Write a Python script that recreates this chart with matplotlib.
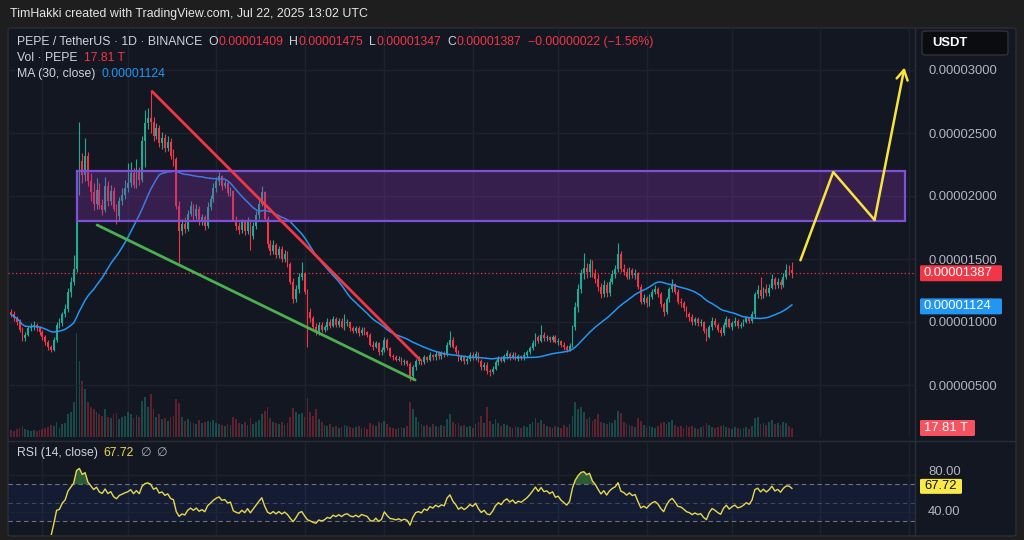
import numpy as np
import pandas as pd
import matplotlib
matplotlib.use("Agg")
import matplotlib.pyplot as plt
import matplotlib.transforms as mtransforms
from matplotlib.patches import FancyBboxPatch, Rectangle
from matplotlib.lines import Line2D

plt.rcParams['font.family'] = ['Liberation Sans', 'DejaVu Sans']

# ---- data: prices in 1e-6 USDT, volume in T (trillion PEPE) ----
start_date = "2024-10-21"
first_open = 10.8

closes = [
    10.6, 10.3, 10.0, 9.4, 8.7, 9.0, 9.5, 9.6, 9.8, 9.5,
    9.2, 8.8, 8.4, 8.0, 7.8, 8.6, 9.8, 9.9, 10.6, 11.0,
    12.4, 13.2, 14.2, 20.6, 22.8, 21.7, 23.2, 21.2, 20.3, 19.4,
    20.5, 19.3, 18.9, 20.8, 19.6, 20.4, 19.0, 18.4, 19.6, 20.1,
    20.6, 21.0, 21.8, 20.9, 22.0, 21.3, 24.4, 25.8, 26.2, 25.9,
    24.8, 25.4, 24.2, 24.6, 23.8, 24.3, 23.2, 22.9, 19.2, 17.2,
    17.8, 17.4, 18.6, 19.2, 18.4, 19.0, 17.9, 18.3, 17.6, 19.1,
    19.8, 20.6, 21.2, 21.6, 20.8, 21.0, 20.2, 20.4, 18.1, 17.6,
    17.3, 17.9, 17.2, 18.0, 16.8, 17.6, 18.5, 19.4, 20.3, 18.2,
    16.2, 15.6, 16.1, 15.3, 15.8, 15.0, 15.4, 14.6, 13.2, 11.8,
    12.6, 13.6, 13.9, 12.4, 10.8, 10.3, 9.6, 9.2, 9.8, 9.4,
    9.6, 10.0, 9.7, 10.2, 9.8, 10.1, 9.6, 9.9, 10.0, 9.5,
    9.3, 9.5, 9.1, 9.4, 9.2, 9.0, 8.2, 8.0, 8.3, 7.6,
    7.8, 8.6, 7.9, 7.3, 7.2, 7.0, 7.1, 6.8, 6.9, 6.7,
    5.7, 6.4, 6.9, 7.0, 6.8, 7.2, 7.0, 7.4, 7.2, 7.5,
    7.3, 7.5, 7.4, 8.2, 8.6, 8.0, 7.6, 7.0, 7.2, 6.9,
    7.1, 7.4, 7.2, 7.5, 6.9, 6.4, 6.6, 6.1, 6.0, 6.3,
    6.8, 7.1, 6.9, 7.3, 7.5, 7.2, 7.4, 7.1, 7.3, 7.2,
    7.4, 7.6, 7.9, 8.3, 8.8, 8.5, 9.0, 8.7, 8.8, 8.6,
    8.8, 8.4, 8.5, 8.2, 8.0, 7.8, 8.1, 9.6, 11.2, 12.6,
    13.9, 14.3, 14.0, 14.6, 13.8, 13.4, 12.8, 12.2, 12.9, 12.3,
    13.2, 13.8, 14.2, 15.4, 14.2, 14.0, 13.6, 14.1, 13.7, 13.9,
    12.8, 11.6, 11.9, 11.5, 12.0, 12.4, 12.6, 12.2, 11.4, 10.8,
    11.8, 12.6, 13.0, 12.4, 11.6, 11.5, 11.1, 10.6, 10.4, 10.0,
    10.2, 9.9, 10.0, 9.3, 8.8, 9.6, 10.1, 9.8, 9.4, 9.1,
    9.8, 10.2, 9.6, 9.9, 10.1, 9.7, 9.8, 10.0, 10.3, 10.1,
    10.6, 12.2, 12.5, 12.1, 12.6, 12.3, 12.7, 13.4, 12.9, 13.2,
    12.9, 13.6, 14.1, 14.09, 13.87,
]

highs = [
    11.0, 10.9, 10.5, 10.2, 9.6, 9.2, 9.7, 9.9, 10.1, 9.9,
    9.7, 9.4, 9.0, 8.6, 8.2, 8.8, 10.0, 10.3, 10.8, 11.4,
    12.7, 13.6, 15.3, 21.0, 25.9, 23.4, 24.6, 23.5, 21.8, 21.0,
    21.4, 21.0, 19.8, 21.5, 21.2, 20.9, 20.7, 19.4, 19.9, 20.6,
    21.3, 22.6, 22.7, 22.2, 22.9, 22.3, 24.8, 26.8, 27.0, 28.3,
    26.3, 25.8, 25.6, 25.1, 24.9, 24.8, 24.6, 23.7, 23.1, 19.6,
    18.2, 18.3, 18.9, 19.6, 19.4, 19.4, 19.2, 18.6, 18.5, 19.5,
    20.1, 21.0, 21.5, 21.9, 21.7, 21.3, 21.2, 20.7, 20.5, 18.4,
    17.9, 18.2, 18.1, 18.3, 18.2, 17.9, 18.8, 19.8, 20.8, 20.4,
    18.4, 16.5, 16.5, 16.3, 16.0, 16.0, 15.7, 15.6, 14.8, 13.5,
    12.9, 13.9, 14.8, 14.0, 12.6, 11.1, 10.5, 9.9, 10.0, 10.0,
    9.8, 10.3, 10.2, 10.5, 10.4, 10.3, 10.3, 10.6, 10.2, 10.1,
    9.7, 9.7, 9.7, 9.6, 9.6, 9.3, 9.1, 8.5, 8.5, 8.4,
    8.0, 8.8, 8.7, 8.0, 7.5, 7.4, 7.3, 7.2, 7.1, 7.0,
    6.8, 6.6, 7.1, 7.3, 7.1, 7.4, 7.3, 7.6, 7.5, 7.7,
    7.7, 7.7, 7.7, 8.4, 9.3, 8.8, 8.2, 7.8, 7.4, 7.4,
    7.3, 7.6, 7.6, 7.7, 7.6, 7.1, 6.8, 6.8, 6.3, 6.5,
    7.0, 7.3, 7.3, 7.5, 7.8, 7.6, 7.6, 7.6, 7.5, 7.4,
    7.6, 7.8, 8.1, 8.6, 9.1, 9.0, 9.8, 9.2, 9.0, 8.9,
    9.0, 9.0, 8.7, 8.6, 8.4, 8.2, 8.3, 9.8, 11.6, 13.0,
    14.2, 15.5, 14.7, 15.0, 14.9, 14.2, 13.8, 13.1, 13.3, 13.2,
    13.5, 14.1, 14.5, 16.3, 15.6, 14.6, 14.3, 14.4, 14.3, 14.2,
    14.0, 13.0, 12.2, 12.1, 12.2, 12.6, 12.9, 12.8, 12.4, 11.6,
    12.0, 12.8, 13.4, 13.1, 12.6, 11.9, 11.7, 11.3, 10.8, 10.6,
    10.4, 10.4, 10.2, 10.1, 9.5, 9.8, 10.4, 10.3, 9.9, 9.6,
    10.0, 10.5, 10.3, 10.1, 10.4, 10.2, 10.0, 10.2, 10.5, 10.4,
    10.9, 12.4, 12.9, 13.6, 12.8, 13.0, 13.0, 13.8, 13.6, 13.5,
    13.4, 13.9, 14.6, 14.5, 14.75,
]

lows = [
    10.4, 10.1, 9.8, 9.2, 8.5, 8.5, 8.9, 9.3, 9.4, 9.3,
    9.0, 8.6, 8.2, 7.8, 7.6, 7.7, 8.4, 9.5, 9.7, 10.4,
    10.8, 12.0, 12.9, 14.0, 20.1, 21.0, 21.2, 20.8, 19.6, 18.9,
    19.0, 19.0, 18.5, 18.7, 19.2, 19.3, 18.8, 17.8, 18.1, 19.3,
    19.8, 20.3, 20.7, 20.6, 20.6, 20.9, 21.1, 22.3, 25.3, 25.0,
    24.4, 24.5, 23.9, 23.7, 23.5, 23.6, 22.9, 22.4, 19.0, 14.7,
    16.9, 17.1, 17.2, 18.4, 18.1, 18.2, 17.7, 17.7, 17.3, 17.5,
    18.9, 19.5, 20.3, 20.9, 20.5, 20.6, 20.0, 20.0, 18.0, 17.3,
    17.0, 17.1, 16.9, 17.0, 15.7, 16.6, 17.4, 18.2, 19.2, 18.0,
    15.9, 15.3, 15.4, 15.1, 15.1, 14.8, 14.8, 14.4, 13.0, 11.5,
    11.6, 12.3, 13.3, 12.2, 8.0, 10.0, 9.4, 9.0, 9.0, 9.2,
    9.2, 9.4, 9.5, 9.6, 9.6, 9.6, 9.5, 9.4, 9.7, 9.3,
    9.1, 9.1, 8.9, 9.0, 9.0, 8.8, 8.1, 7.8, 7.9, 7.4,
    7.4, 7.6, 7.8, 7.2, 7.0, 6.9, 6.9, 6.6, 6.6, 6.5,
    5.3, 5.4, 6.2, 6.7, 6.6, 6.7, 6.8, 6.9, 7.0, 7.0,
    7.1, 7.1, 7.2, 7.3, 8.0, 7.9, 7.5, 6.9, 6.9, 6.7,
    6.7, 6.9, 7.0, 7.0, 6.8, 6.2, 6.2, 5.9, 5.7, 5.9,
    6.2, 6.6, 6.8, 6.8, 7.1, 7.0, 7.1, 7.0, 6.9, 7.0,
    7.0, 7.2, 7.5, 7.8, 8.1, 8.3, 8.4, 8.5, 8.5, 8.4,
    8.4, 8.3, 8.2, 8.0, 7.8, 7.6, 7.7, 8.0, 9.4, 10.8,
    12.3, 13.4, 13.5, 13.6, 13.6, 13.1, 12.5, 11.9, 12.0, 12.0,
    12.1, 13.0, 13.5, 14.0, 14.0, 13.7, 13.4, 13.4, 13.5, 13.4,
    12.6, 11.4, 11.4, 11.2, 11.3, 11.8, 12.2, 12.0, 11.2, 10.5,
    10.6, 11.6, 12.4, 12.2, 11.4, 11.2, 10.9, 10.4, 10.1, 9.8,
    9.8, 9.7, 9.7, 9.1, 8.5, 8.7, 9.4, 9.6, 9.2, 8.9,
    9.0, 9.6, 9.5, 9.4, 9.7, 9.5, 9.5, 9.7, 9.9, 9.9,
    9.9, 10.4, 11.9, 11.8, 11.9, 12.1, 12.1, 12.6, 12.6, 12.7,
    12.6, 12.8, 13.4, 13.7, 13.47,
]

volumes = [
    14, 12, 15, 18, 22, 16, 14, 12, 13, 11,
    14, 16, 18, 20, 24, 22, 30, 18, 25, 28,
    45, 50, 70, 205, 150, 110, 95, 70, 60, 55,
    50, 45, 42, 55, 40, 38, 45, 48, 35, 40,
    42, 50, 45, 38, 44, 40, 72, 80, 60, 85,
    55, 40, 45, 35, 38, 32, 40, 42, 75, 68,
    40, 32, 35, 30, 28, 26, 34, 28, 30, 32,
    30, 34, 28, 26, 24, 22, 25, 24, 40, 36,
    28, 26, 30, 24, 38, 26, 30, 34, 45, 52,
    60, 38, 30, 28, 26, 30, 24, 28, 40, 58,
    50, 45, 48, 40, 78, 50, 42, 55, 35, 30,
    24, 22, 26, 20, 22, 18, 20, 24, 22, 20,
    18, 20, 22, 18, 20, 16, 28, 24, 22, 30,
    28, 32, 26, 20, 18, 16, 18, 20, 18, 22,
    70, 55, 40, 30, 25, 22, 24, 20, 26, 22,
    20, 24, 22, 35, 45, 30, 26, 28, 22, 24,
    20, 22, 18, 25, 30, 42, 28, 60, 32, 26,
    35, 28, 22, 26, 24, 20, 18, 22, 20, 18,
    22, 20, 26, 30, 38, 28, 34, 26, 22, 20,
    18, 22, 20, 18, 24, 20, 26, 42, 70, 55,
    60, 50, 35, 40, 32, 36, 45, 30, 28, 26,
    30, 28, 34, 52, 48, 30, 26, 24, 22, 20,
    38, 32, 24, 20, 22, 20, 18, 22, 28, 30,
    26, 30, 34, 24, 20, 22, 18, 24, 20, 22,
    18, 16, 20, 22, 28, 24, 20, 18, 20, 22,
    24, 20, 18, 16, 20, 18, 16, 18, 20, 16,
    22, 38, 40, 26, 28, 24, 30, 34, 26, 28,
    24, 30, 28, 22, 17.81,
]

price_ticks = [5, 10, 15, 20, 25, 30]
rsi_ticks = [40, 80]
last_close = 13.87
ma_last = 11.24
rsi_last = 67.72
vol_last = 17.81

# drawings on the chart (candle index, price)
zone_idx = [23.2, 313.7]
zone_price = [18.0, 22.0]
red_line_idx = [49.5, 143.5]
red_line_price = [28.3, 7.0]
green_line_idx = [30.2, 141.8]
green_line_price = [17.7, 5.4]
proj_idx = [277, 288.5, 303, 313.5]
proj_price = [14.9, 21.9, 18.1, 30.2]

# ---- colours ----
FRAME = '#1e1e1f'
BG = '#131722'
GRID = '#1e222d'
SEP = '#2a2e39'
TXT = '#d1d4dc'
AXTXT = '#b2b5be'
UP = '#22ab94'
DOWN = '#f23645'
MA_C = '#2196f3'
YEL = '#f7e43f'
RSI_C = '#e8d84e'

W, H = 1024, 540


def box(x0, y0, x1, y1):
    # pixel rectangle (from top-left) -> figure fraction
    return [x0 / W, 1 - y1 / H, (x1 - x0) / W, (y1 - y0) / H]


def idx_at(px):
    return (px - 11) / 2.85


def price_at(py):
    return (448 - py) / 12.6


def rsi_at(py):
    return 80 - (py - 475) / 0.925


fig = plt.figure(figsize=(10.24, 5.4), dpi=100, facecolor=FRAME)

panel = FancyBboxPatch((8 / W, 1 - 536 / H), 1008 / W, 508 / H,
                       boxstyle="round,pad=0,rounding_size=0.004",
                       transform=fig.transFigure, fc=BG, ec=SEP, lw=1, zorder=-1)
fig.patches.append(panel)

axv = fig.add_axes(box(8, 28, 915, 437))
ax = fig.add_axes(box(8, 28, 915, 440), sharex=axv)
axr = fig.add_axes(box(8, 443, 915, 535), sharex=axv)
axv.set_zorder(1)
ax.set_zorder(2)
axr.set_zorder(1)
for a in (axv, ax, axr):
    a.patch.set_alpha(0)
    for s in a.spines.values():
        s.set_visible(False)
    a.tick_params(bottom=False, labelbottom=False)
axv.set_yticks([])

axv.set_xlim(idx_at(8), idx_at(915))
ax.set_ylim(price_at(440), price_at(28))
axv.set_ylim(0, vol_last * 409 / 9)
axr.set_ylim(rsi_at(535), rsi_at(443))

n = len(closes)
idx = np.arange(n)
c = np.array(closes)
o = np.array([first_open] + closes[:-1])
hi = np.maximum(np.array(highs), np.maximum(o, c))
lo = np.minimum(np.array(lows), np.minimum(o, c))
up = c >= o
ccol = np.where(up, UP, DOWN)

# month grid
dates = pd.date_range(start_date, periods=int(idx_at(915)) + 2)
month_idx = np.flatnonzero(dates.day == 1)
for m in month_idx:
    axv.axvline(m, color=GRID, lw=1, zorder=0)
    axr.axvline(m, color=GRID, lw=1, zorder=0)
for t in price_ticks:
    ax.axhline(t, color=GRID, lw=1, zorder=0)

# volume
axv.bar(idx, volumes, width=0.6, color=ccol, alpha=0.35, lw=0)

# candles
ax.vlines(idx, lo, hi, colors=ccol, lw=0.8, zorder=3)
body = np.maximum(np.abs(c - o), 0.05)
ax.bar(idx, body, bottom=np.minimum(o, c), width=0.62, color=ccol, lw=0, zorder=3)

# MA 30
ma = pd.Series(closes).rolling(30, min_periods=1).mean()
ax.plot(idx, ma, color=MA_C, lw=1.1, zorder=4)

# last price line
ax.axhline(last_close, color=DOWN, lw=0.9, ls=(0, (1, 2)), zorder=2.5)

# drawings
ax.add_patch(Rectangle((zone_idx[0], zone_price[0]), zone_idx[1] - zone_idx[0],
                       zone_price[1] - zone_price[0], fc=(0.55, 0.2, 0.7, 0.3),
                       ec='#7e4fd8', lw=1.6, zorder=5))
ax.plot(red_line_idx, red_line_price, color=DOWN, lw=2, zorder=6, solid_capstyle='round')
ax.plot(green_line_idx, green_line_price, color='#4caf50', lw=2, zorder=6, solid_capstyle='round')
ax.plot(proj_idx[:-1], proj_price[:-1], color=YEL, lw=1.8, zorder=6, solid_capstyle='round')
ax.annotate('', xy=(proj_idx[-1], proj_price[-1]), xytext=(proj_idx[-2], proj_price[-2]),
            arrowprops=dict(arrowstyle='->,head_length=0.7,head_width=0.4', color=YEL,
                            lw=1.8, shrinkA=0, shrinkB=0), zorder=6)

# price scale
ax.yaxis.tick_right()
ax.set_yticks(price_ticks)
ax.set_yticklabels([f"{t * 1e-6:.8f}" for t in price_ticks])
ax.tick_params(axis='y', length=0, pad=9.4, labelsize=9.4, labelcolor=AXTXT)

# RSI 14
delta = pd.Series(closes).diff()
gain = delta.clip(lower=0).ewm(alpha=1 / 14, adjust=False, min_periods=14).mean()
loss = (-delta.clip(upper=0)).ewm(alpha=1 / 14, adjust=False, min_periods=14).mean()
rsi = (100 - 100 / (1 + gain / loss)).to_numpy()

axr.axhspan(30, 70, color='#2962ff', alpha=0.08, lw=0, zorder=0)
for lvl in rsi_ticks:
    axr.axhline(lvl, color=GRID, lw=1, zorder=0)
for lvl, al in ((70, 0.9), (50, 0.45), (30, 0.9)):
    axr.axhline(lvl, color='#787b86', lw=0.8, ls=(0, (4, 3)), alpha=al, zorder=1)
ok = ~np.isnan(rsi)
axr.fill_between(idx[ok], rsi[ok], 70, where=rsi[ok] > 70, interpolate=True,
                 color='#4caf50', alpha=0.45, lw=0, zorder=2)
axr.plot(idx, rsi, color=RSI_C, lw=1, zorder=3)
axr.set_yticks([])
# RSI scale labels; the upper one nudged up a little so it clears the value tag
for lvl, dy in ((40, 0), (80, 3)):
    tr = mtransforms.offset_copy(axr.get_yaxis_transform(), fig=fig, x=13, y=dy, units='dots')
    axr.text(1, lvl, f"{lvl:.2f}", transform=tr, color=AXTXT, fontsize=9.4,
             va='center', ha='left', clip_on=False)

# separators
fig.add_artist(Line2D([915 / W] * 2, [1 - 28 / H, 1 - 536 / H], color=SEP, lw=1))
fig.add_artist(Line2D([8 / W, 1016 / W], [1 - 441 / H] * 2, color=SEP, lw=1))

# currency box
fig.patches.append(FancyBboxPatch((922 / W, 1 - 55 / H), 86 / W, 24 / H,
                                  boxstyle="round,pad=0,rounding_size=0.004",
                                  transform=fig.transFigure, fc='#0b0c0f', ec='#2f323c',
                                  lw=1, zorder=5))
fig.text(932 / W, 1 - 43 / H, "USDT", color='white', fontsize=9.4, fontweight='bold',
         va='center', ha='left', zorder=6)


def tag(a, val, text, face, tcolor, width, height=16):
    yd = a.transData.transform((0, val))[1]
    fig.patches.append(FancyBboxPatch((920 / W, (yd - height / 2) / H), width / W, height / H,
                                      boxstyle="round,pad=0,rounding_size=0.002",
                                      transform=fig.transFigure, fc=face, ec='none', zorder=5))
    fig.text(924 / W, yd / H, text, color=tcolor, fontsize=9.4, va='center', ha='left', zorder=6)


tag(ax, last_close, f"{last_close * 1e-6:.8f}", DOWN, 'white', 82)
tag(ax, ma_last, f"{ma_last * 1e-6:.8f}", MA_C, 'white', 82)
tag(axv, vol_last, f"{vol_last:.2f} T", '#f7525f', 'white', 55)
tag(axr, rsi_last, f"{rsi_last:.2f}", '#f9e94a', '#111111', 42, 15)


def chain(x, y, parts, size=8.8):
    r = fig.canvas.get_renderer()
    for s, col, gap in parts:
        t = fig.text(x / W, 1 - y / H, s, color=col, fontsize=size, va='center', ha='left')
        x = t.get_window_extent(r).x1 + gap


fig.text(10 / W, 1 - 14 / H, "TimHakki created with TradingView.com, Jul 22, 2025 13:02 UTC",
         color='#e6e6e6', fontsize=8.9, va='center', ha='left')

chain(17, 42, [("PEPE / TetherUS · 1D · BINANCE", TXT, 6),
               ("O", TXT, 0.5), ("0.00001409", DOWN, 6),
               ("H", TXT, 0.5), ("0.00001475", DOWN, 6),
               ("L", TXT, 0.5), ("0.00001347", DOWN, 6),
               ("C", TXT, 0.5), ("0.00001387", DOWN, 6),
               ("−0.00000022 (−1.56%)", DOWN, 0)])
chain(17, 58, [("Vol · PEPE", TXT, 6), ("17.81 T", DOWN, 0)])
chain(17, 74, [("MA (30, close)", TXT, 6), ("0.00001124", MA_C, 0)])
chain(17, 453, [("RSI (14, close)", TXT, 6), ("67.72", RSI_C, 6),
                ("∅", AXTXT, 5), ("∅", AXTXT, 0)])

fig.savefig("out.png", dpi=100, facecolor=FRAME)
